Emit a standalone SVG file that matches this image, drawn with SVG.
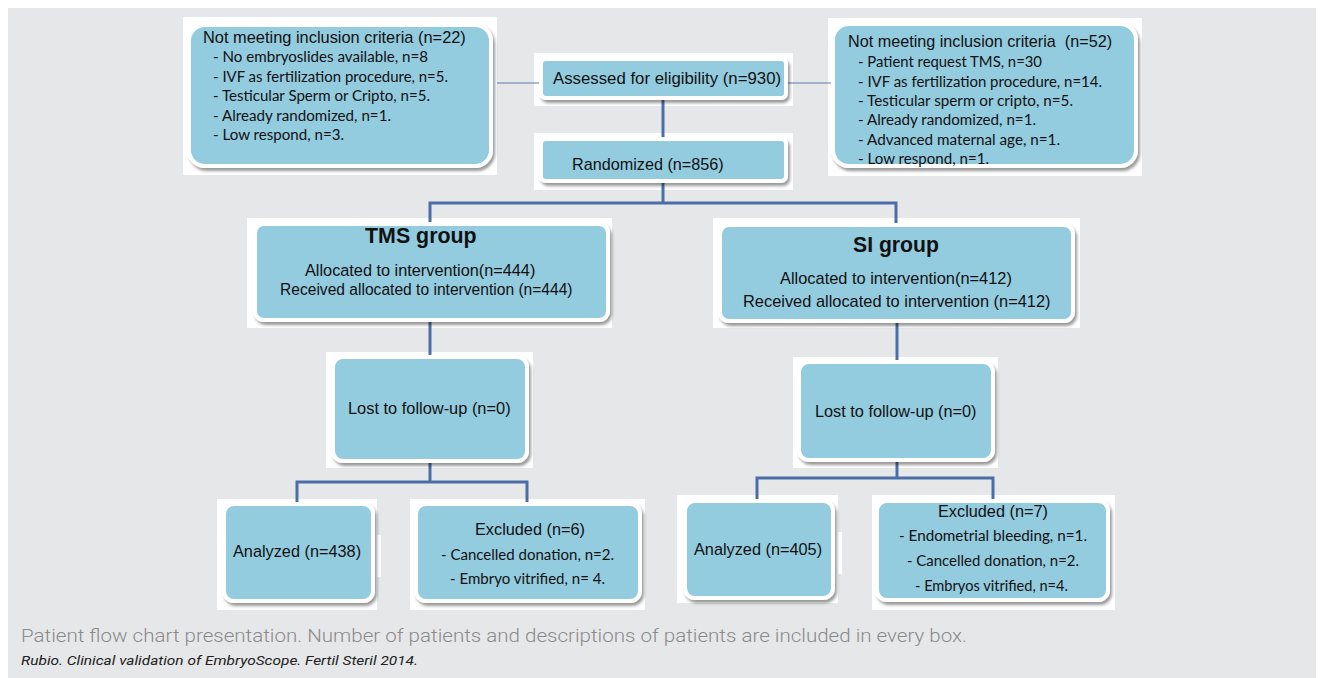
<svg xmlns="http://www.w3.org/2000/svg" width="1321" height="678" viewBox="0 0 1321 678">
<style>
.bd{fill:#fff}
.box{fill:#93cbdf;stroke:#fff;stroke-width:4;filter:url(#sh)}
.t{font-family:"Liberation Sans",Arial,sans-serif;fill:#111}
.b{font-family:Lato,"Open Sans",sans-serif;fill:#111;font-size:14.5px}
.thin{stroke:#5a7db4;stroke-width:1.2;fill:none}
.thick{stroke:#4a6ea8;stroke-width:3;fill:none}
</style>
<defs>
<filter id="sh" x="-10%" y="-10%" width="125%" height="130%">
<feDropShadow dx="2" dy="3" stdDeviation="1.6" flood-color="#000" flood-opacity="0.4"/>
</filter>
</defs>
<rect x="0" y="0" width="1321" height="678" fill="#fff"/>
<rect x="8" y="8" width="1308" height="670" fill="#e6e7e8"/>

<g id="backdrops">
<rect class="bd" x="183" y="17" width="314" height="158"/>
<rect class="bd" x="828" y="18" width="314" height="158"/>
<rect class="bd" x="534" y="53" width="259" height="53"/>
<rect class="bd" x="534" y="133" width="259" height="57"/>
<rect class="bd" x="247" y="218" width="365" height="110"/>
<rect class="bd" x="713" y="218" width="367" height="110"/>
<rect class="bd" x="326" y="352" width="207" height="116"/>
<rect class="bd" x="793" y="357" width="205" height="111"/>
<rect class="bd" x="217" y="499" width="160" height="111"/>
<rect class="bd" x="377" y="535" width="4" height="42"/>
<rect class="bd" x="410" y="499" width="235" height="111"/>
<rect class="bd" x="677" y="495" width="161" height="108"/>
<rect class="bd" x="838" y="532" width="4" height="42"/>
<rect class="bd" x="872" y="495" width="243" height="115"/>
</g>

<g id="connectors">
<path class="thin" d="M497 83H541"/>
<path class="thin" d="M786 83H833"/>
<path class="thick" d="M663 100V137"/>
<path class="thick" d="M663 183V203"/>
<path class="thick" d="M430 222V203H896V223"/>
<path class="thick" d="M430 322V355"/>
<path class="thick" d="M430 463V482"/>
<path class="thick" d="M297 502V482H527V502"/>
<path class="thick" d="M897 323V360"/>
<path class="thick" d="M897 462V478"/>
<path class="thick" d="M757 499V478H993V499"/>
</g>

<g id="excl-left">
<rect class="box" x="189" y="25" width="302" height="141" rx="16"/>
<text class="t" x="203" y="43" font-size="16.4">Not meeting inclusion criteria (n=22)</text>
<text class="b" x="213" y="62" textLength="215" lengthAdjust="spacingAndGlyphs">- No embryoslides available, n=8</text>
<text class="b" x="213" y="82" textLength="235" lengthAdjust="spacingAndGlyphs">- IVF as fertilization procedure, n=5.</text>
<text class="b" x="213" y="101" textLength="217" lengthAdjust="spacingAndGlyphs">- Testicular Sperm or Cripto, n=5.</text>
<text class="b" x="213" y="121" textLength="178" lengthAdjust="spacingAndGlyphs">- Already randomized, n=1.</text>
<text class="b" x="213" y="140" textLength="131" lengthAdjust="spacingAndGlyphs">- Low respond, n=3.</text>
</g>

<g id="excl-right">
<rect class="box" x="833" y="24" width="303" height="142" rx="16"/>
<text class="t" x="848" y="47" font-size="16.2" xml:space="preserve">Not meeting inclusion criteria  (n=52)</text>
<text class="b" x="858" y="67" textLength="184" lengthAdjust="spacingAndGlyphs">- Patient request TMS, n=30</text>
<text class="b" x="858" y="87" textLength="244" lengthAdjust="spacingAndGlyphs">- IVF as fertilization procedure, n=14.</text>
<text class="b" x="858" y="106" textLength="215" lengthAdjust="spacingAndGlyphs">- Testicular sperm or cripto, n=5.</text>
<text class="b" x="858" y="125" textLength="178" lengthAdjust="spacingAndGlyphs">- Already randomized, n=1.</text>
<text class="b" x="858" y="145" textLength="202" lengthAdjust="spacingAndGlyphs">- Advanced maternal age, n=1.</text>
<text class="b" x="858" y="164" textLength="131" lengthAdjust="spacingAndGlyphs">- Low respond, n=1.</text>
</g>

<g id="assessed">
<rect class="box" x="541" y="59" width="245" height="39" rx="5"/>
<text class="t" x="553" y="84" font-size="16.8">Assessed for eligibility (n=930)</text>
</g>

<g id="randomized">
<rect class="box" x="541" y="139" width="245" height="42" rx="5"/>
<text class="t" x="572" y="170" font-size="16.2">Randomized (n=856)</text>
</g>

<g id="tms">
<rect class="box" x="255" y="224" width="353" height="96" rx="9"/>
<text class="t" x="365" y="243" font-size="21.4" font-weight="bold">TMS group</text>
<text class="t" x="305" y="276" font-size="16.3">Allocated to intervention(n=444)</text>
<text class="t" x="280" y="295" font-size="15.6">Received allocated to intervention (n=444)</text>
</g>

<g id="si">
<rect class="box" x="720" y="225" width="353" height="96" rx="9"/>
<text class="t" x="853" y="252" font-size="21.2" font-weight="bold">SI group</text>
<text class="t" x="780" y="284" font-size="16.4">Allocated to intervention(n=412)</text>
<text class="t" x="743" y="307" font-size="16.4">Received allocated to intervention (n=412)</text>
</g>

<g id="lost-tms">
<rect class="box" x="333" y="357" width="194" height="104" rx="10"/>
<text class="t" x="348" y="414" font-size="16.4">Lost to follow-up (n=0)</text>
</g>

<g id="lost-si">
<rect class="box" x="799" y="362" width="194" height="98" rx="10"/>
<text class="t" x="815" y="417" font-size="16.3">Lost to follow-up (n=0)</text>
</g>

<g id="analyzed-tms">
<rect class="box" x="224" y="504" width="149" height="97" rx="10"/>
<text class="t" x="233" y="557" font-size="16.3">Analyzed (n=438)</text>
</g>

<g id="excluded-tms">
<rect class="box" x="416" y="504" width="224" height="97" rx="10"/>
<text class="t" x="475" y="535" font-size="16.3">Excluded (n=6)</text>
<text class="b" x="441" y="560" textLength="173" lengthAdjust="spacingAndGlyphs">- Cancelled donation, n=2.</text>
<text class="b" x="450" y="584" textLength="155" lengthAdjust="spacingAndGlyphs">- Embryo vitrified, n= 4.</text>
</g>

<g id="analyzed-si">
<rect class="box" x="685" y="501" width="148" height="97" rx="10"/>
<text class="t" x="694" y="555" font-size="16.3">Analyzed (n=405)</text>
</g>

<g id="excluded-si">
<rect class="box" x="877" y="501" width="231" height="99" rx="10"/>
<text class="t" x="938" y="517" font-size="16.3">Excluded (n=7)</text>
<text class="b" x="899" y="541" textLength="188" lengthAdjust="spacingAndGlyphs">- Endometrial bleeding, n=1.</text>
<text class="b" x="907" y="566" textLength="172" lengthAdjust="spacingAndGlyphs">- Cancelled donation, n=2.</text>
<text class="b" x="915" y="591" textLength="153" lengthAdjust="spacingAndGlyphs">- Embryos vitrified, n=4.</text>
</g>

<g id="caption">
<text x="21" y="642" font-family="Roboto,'Open Sans',sans-serif" font-size="17.5" font-weight="300" fill="#8a8a8a" textLength="946" lengthAdjust="spacingAndGlyphs">Patient flow chart presentation. Number of patients and descriptions of patients are included in every box.</text>
<text x="21" y="665" font-family="Roboto,'Open Sans',sans-serif" font-size="13" font-style="italic" fill="#222" textLength="397" lengthAdjust="spacingAndGlyphs">Rubio. Clinical validation of EmbryoScope. Fertil Steril 2014.</text>
</g>
</svg>
